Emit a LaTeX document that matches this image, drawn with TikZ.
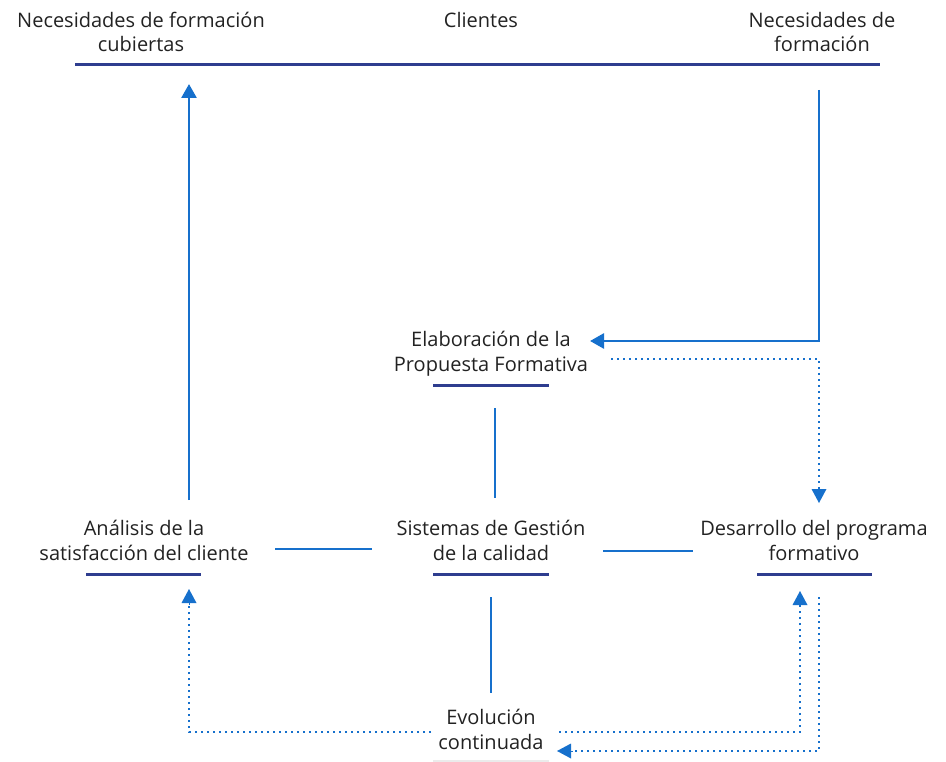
\documentclass[tikz,border=0pt]{standalone}
\usepackage{fontspec}
\setmainfont{Open Sans}
\usetikzlibrary{arrows.meta}
\definecolor{lnblue}{RGB}{22,112,204}
\definecolor{navy}{RGB}{46,61,143}
\definecolor{txt}{RGB}{34,34,34}
\begin{document}
\begin{tikzpicture}[x=1pt,y=-1pt,
  lbl/.style={font=\fontsize{20}{24.5}\selectfont, text=txt, align=center, inner sep=0pt, anchor=base},
  uline/.style={navy, line width=3pt},
  conn/.style={lnblue, line width=2.7pt},
  dotc/.style={lnblue, line width=2.7pt, dash pattern=on 2.4pt off 3.6pt},
  tip/.style={-{Triangle[length=14pt,width=15pt]}}
]
\useasboundingbox (0,0) rectangle (946,762);
% labels (anchor = baseline of last line)
\node[lbl] (nfc) at (141,52) {Necesidades de formación\\cubiertas};
\node[lbl] (cli) at (481,28) {Clientes};
\node[lbl] (nf) at (822,52) {Necesidades de\\formación};
\node[lbl] (ela) at (491,371) {Elaboración de la\\Propuesta Formativa};
\node[lbl] (ana) at (144,560) {Análisis de la\\satisfacción del cliente};
\node[lbl] (sis) at (491,560) {Sistemas de Gestión\\de la calidad};
\node[lbl] (des) at (814,560) {Desarrollo del programa\\formativo};
\node[lbl] (evo) at (491,749) {Evolución\\continuada};
% underlines
\coordinate (topL) at (75,65); \coordinate (topR) at (880,65);
\draw[uline] (topL) -- (topR);
\coordinate (elaL) at (433,385); \coordinate (elaR) at (549,385);
\draw[uline] (elaL) -- (elaR);
\coordinate (sisL) at (433,574); \coordinate (sisR) at (549,574);
\draw[uline] (sisL) -- (sisR);
\coordinate (anaL) at (86,574); \coordinate (anaR) at (201,574);
\draw[uline] (anaL) -- (anaR);
\coordinate (desL) at (757,574); \coordinate (desR) at (872,574);
\draw[uline] (desL) -- (desR);
\coordinate (evoL) at (433,761); \coordinate (evoR) at (549,761);
\draw[black!8, line width=2pt] (evoL) -- (evoR);
% solid connectors
\coordinate (a1) at (189,500); \coordinate (a2) at (189,84);
\draw[conn,tip] (a1) -- (a2);
\coordinate (b1) at (819,90); \coordinate (b2) at (819,341); \coordinate (b3) at (590,341);
\draw[conn,tip] (b1) -- (b2) -- (b3);
\coordinate (c1) at (495,408); \coordinate (c2) at (495,498);
\draw[conn] (c1) -- (c2);
\coordinate (d1) at (275,549); \coordinate (d2) at (372,549);
\draw[conn] (d1) -- (d2);
\coordinate (e1) at (603,551); \coordinate (e2) at (693,551);
\draw[conn] (e1) -- (e2);
\coordinate (f1) at (491,597); \coordinate (f2) at (491,693);
\draw[conn] (f1) -- (f2);
% dotted connectors
\coordinate (g1) at (611,359); \coordinate (g2) at (819,359); \coordinate (g3) at (819,503);
\draw[dotc] (g1) -- (g2) -- ([yshift=13pt]g3);
\draw[lnblue,line width=0pt,tip] ([yshift=15pt]g3) -- (g3);
\coordinate (h1) at (431,732); \coordinate (h2) at (189,732); \coordinate (h3) at (189,589);
\draw[dotc] (h1) -- (h2) -- ([yshift=-13pt]h3);
\draw[lnblue,line width=0pt,tip] ([yshift=-15pt]h3) -- (h3);
\coordinate (i1) at (559,732); \coordinate (i2) at (800,732); \coordinate (i3) at (800,591);
\draw[dotc] (i1) -- (i2) -- ([yshift=-13pt]i3);
\draw[lnblue,line width=0pt,tip] ([yshift=-15pt]i3) -- (i3);
\coordinate (j1) at (819,597); \coordinate (j2) at (819,751); \coordinate (j3) at (557,751);
\draw[dotc] (j1) -- (j2) -- ([xshift=13pt]j3);
\draw[lnblue,line width=0pt,tip] ([xshift=15pt]j3) -- (j3);
\end{tikzpicture}
\end{document}
